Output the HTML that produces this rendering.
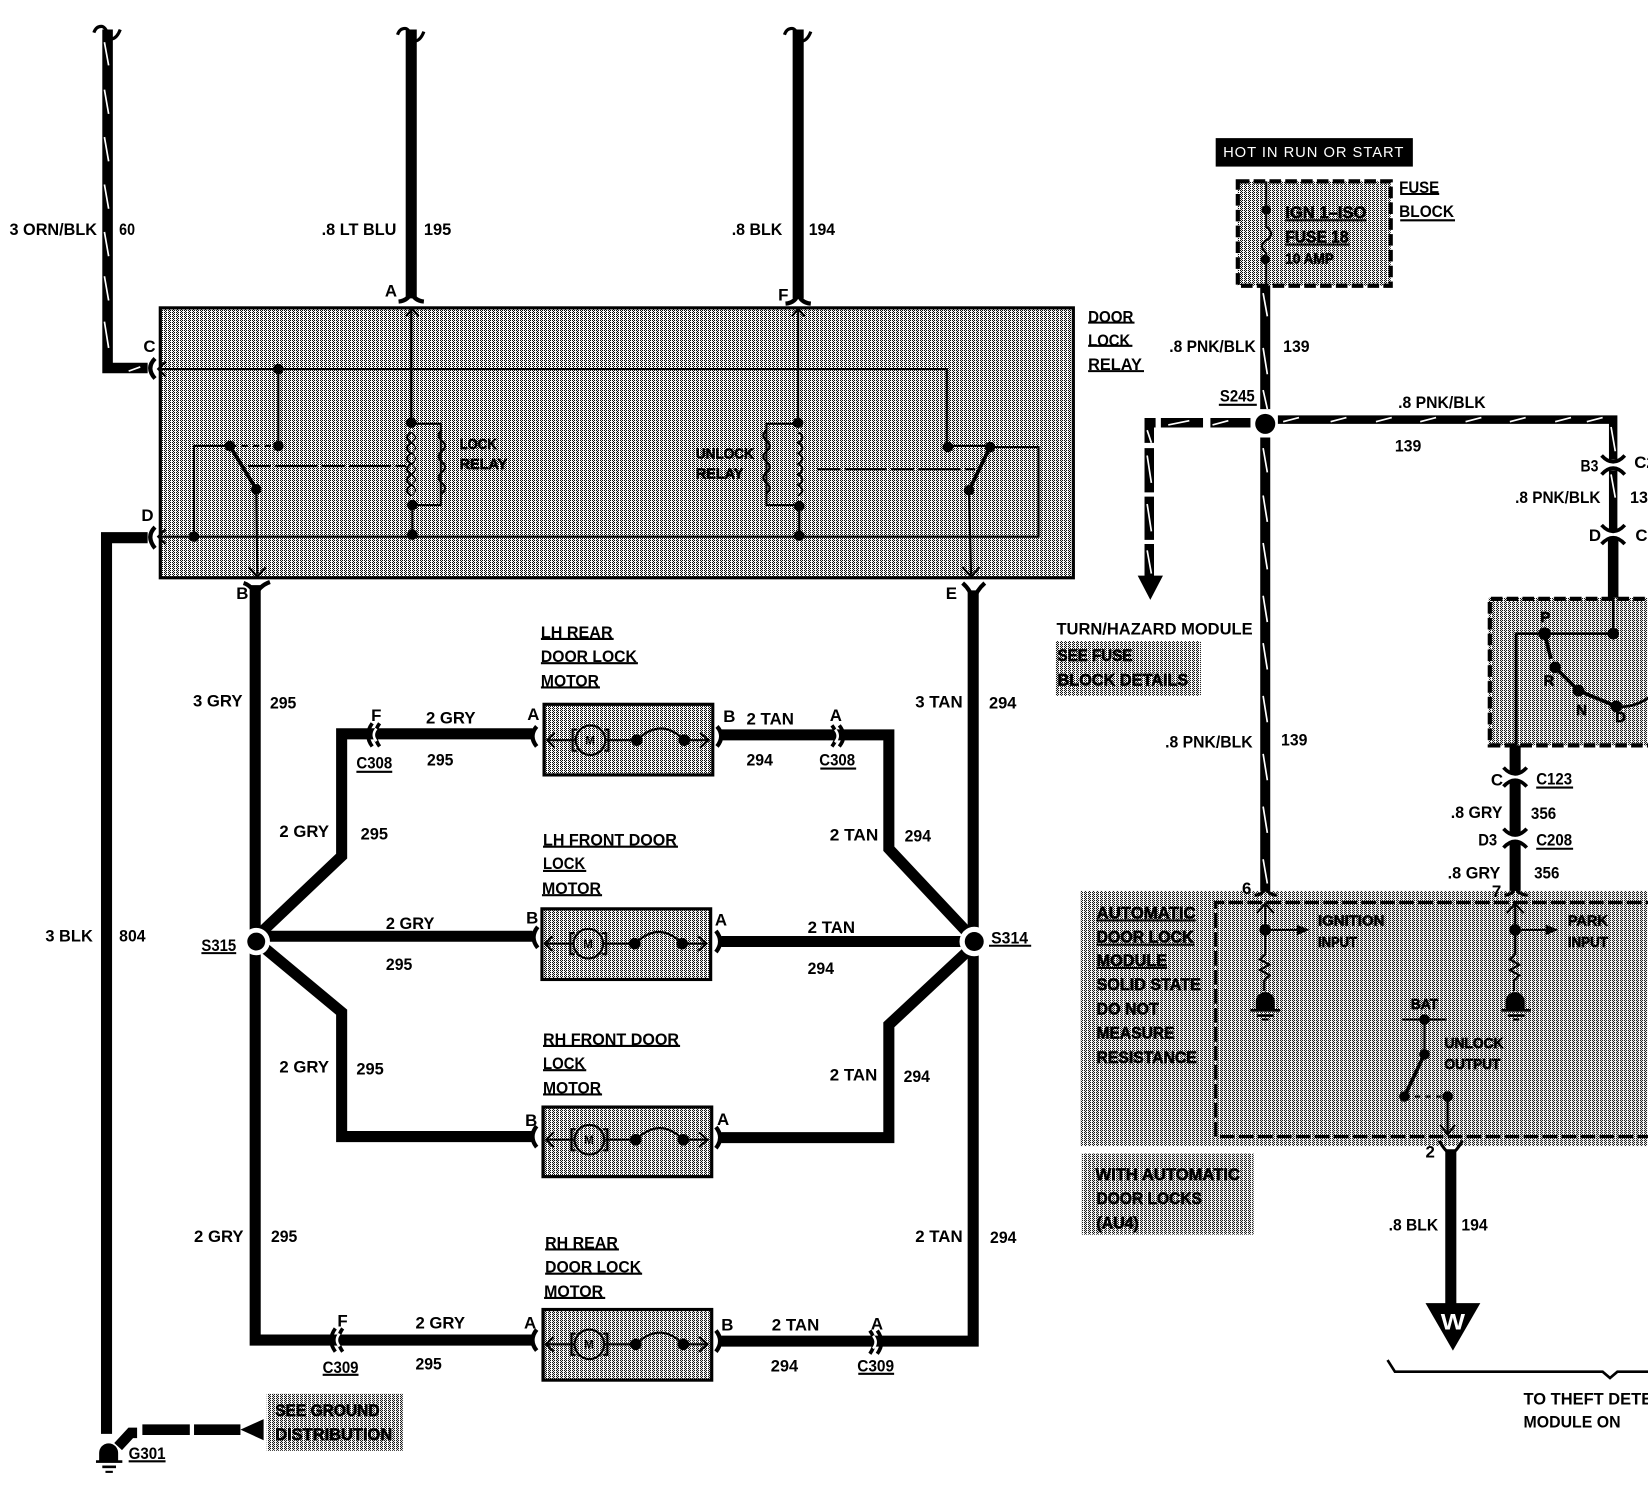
<!DOCTYPE html>
<html><head><meta charset="utf-8"><style>
html,body{margin:0;padding:0;background:#fff}
svg{display:block}
text{font-family:"Liberation Sans Narrow","Liberation Sans",sans-serif;font-weight:700;font-size:16px;fill:#000}
.s{font-size:14px}
.d{stroke:#000;stroke-width:.6}
.w{fill:#fff}
</style></head><body>
<svg xmlns="http://www.w3.org/2000/svg" width="1648" height="1494" viewBox="0 0 1563 1417">
<defs>
<pattern id="g" width="4" height="4" patternUnits="userSpaceOnUse" patternTransform="scale(.9484)">
<rect width="4" height="4" fill="#fff"/>
<rect x="0" y="0" width="1" height="1" fill="#000"/><rect x="2" y="0" width="1" height="1" fill="#000"/>
<rect x="1" y="1" width="1" height="1" fill="#000"/>
<rect x="0" y="2" width="1" height="1" fill="#000"/><rect x="2" y="2" width="1" height="1" fill="#000"/>
<rect x="1" y="3" width="1" height="1" fill="#000"/>
</pattern>
</defs>
<rect width="1563" height="1417" fill="#fff"/>

<!-- gray areas -->
<g fill="url(#g)">
<rect x="152" y="292" width="866" height="256"/>
<rect x="1174" y="172" width="145" height="99"/>
<rect x="1001" y="608" width="138" height="52"/>
<rect x="1412" y="567" width="160" height="140"/>
<rect x="1025" y="845" width="540" height="242"/>
<rect x="1026" y="1094" width="163" height="77"/>
<rect x="253" y="1322" width="129" height="54"/>
<rect x="516" y="668" width="160" height="67"/>
<rect x="514" y="862" width="160" height="67"/>
<rect x="515" y="1050" width="160" height="66"/>
<rect x="515" y="1242" width="160" height="67"/>
</g>
<g fill="none" stroke="#000" stroke-width="3">
<rect x="152" y="292" width="866" height="256"/>
<rect x="516" y="668" width="160" height="67"/>
<rect x="514" y="862" width="160" height="67"/>
<rect x="515" y="1050" width="160" height="66"/>
<rect x="515" y="1242" width="160" height="67"/>
</g>
<g fill="none" stroke="#000" stroke-width="4" stroke-dasharray="11 4">
<rect x="1174" y="172" width="145" height="99"/>
<path d="M1575,568H1413V707H1575"/>
</g>
<path d="M1575,856H1153V1078H1575" fill="none" stroke="#000" stroke-width="3" stroke-dasharray="14 4"/>

<!-- heavy wires -->
<g fill="none" stroke="#000" stroke-width="10.5" stroke-linejoin="miter">
<path d="M390,28V283"/>
<path d="M757,28V283"/>
<path d="M242,555V1271H505"/>
<path d="M923,560V1272H684"/>
<path d="M247,885L324,812V696H505"/>
<path d="M250,888H505"/>
<path d="M247,896L324,960V1078H505"/>
<path d="M684,697H843V805L918,885"/>
<path d="M684,893H918"/>
<path d="M918,902L843,972V1079H684"/>
<path d="M1437,707V733M1437,741V791M1437,799V845"/>
<path d="M1376,1090V1240"/>
</g>
<path d="M102,28V349H140" fill="none" stroke="#000" stroke-width="10"/>
<path d="M140,510H101V1360" fill="none" stroke="#000" stroke-width="10.5"/>
<path d="M1200,271V388M1200,415V845" fill="none" stroke="#000" stroke-width="9.5"/>
<path d="M1212,398H1530V436" fill="none" stroke="#000" stroke-width="8"/>
<path d="M1530,446V503" fill="none" stroke="#000" stroke-width="8"/>
<path d="M1530,511V567" fill="none" stroke="#000" stroke-width="10"/>
<!-- dashed wires -->
<path d="M1186,401H1148M1141,401H1101M1096,401H1090V420M1090,425V467M1090,471V512M1090,516V550" fill="none" stroke="#000" stroke-width="9"/>
<path d="M1079,546H1103L1091,569Z" fill="#000"/>
<path d="M112,1372L124,1359H130M135,1356H180M184,1356H228" fill="none" stroke="#000" stroke-width="10"/>
<path d="M228,1356L250,1346V1366Z" fill="#000"/>

<!-- stripes -->
<g fill="none" stroke="#fff" stroke-width="1.6">
<path d="M99,40L103,62M99,85L103,108M99,130L103,153M99,175L103,198M99,220L103,243M99,262L103,285M99,305L103,330"/>
<path d="M1198,278L1202,300M1198,330L1202,355M1198,370L1202,388M1198,425L1202,448M1198,470L1202,495M1198,515L1202,540M1198,565L1202,590M1198,610L1202,635M1198,660L1202,685M1198,715L1202,740M1198,765L1202,790M1198,815L1202,838"/>
<path d="M1217,400L1232,396M1262,400L1277,396M1305,400L1320,396M1347,400L1362,396M1390,400L1405,396M1432,400L1447,396M1475,400L1490,396M1505,400L1520,396M1150,403L1165,399M1108,403L1128,399"/>
<path d="M1528,405L1532,428M1528,450L1532,472M1088,408L1092,420M1088,432L1092,458M1088,478L1092,504M1088,522L1092,544"/>
<path d="M122,352L133,348"/>
</g>

<!-- squiggles at the top -->
<g fill="none" stroke="#000" stroke-width="3">
<path d="M89,31Q91,25 96,25Q100,25 103,34M114,28Q111,36 106,37"/>
<path d="M377,33Q379,27 384,27Q388,27 391,36M402,30Q399,38 394,39"/>
<path d="M744,33Q746,27 751,27Q755,27 758,36M769,30Q766,38 761,39"/>
</g>

<!-- forks / connectors -->
<g fill="none" stroke="#000" stroke-width="3.5">
<path d="M378,286Q388,285 390,276Q392,285 402,286" stroke-width="4"/>
<path d="M745,288Q755,287 757,278Q759,287 769,288" stroke-width="4"/>
<path d="M231,553Q240,556 242,566Q245,556 256,552" stroke-width="4"/>
<path d="M913,553Q921,560 923,570Q926,560 934,553" stroke-width="4"/>
<path d="M147,340Q138,349 147,359" stroke-width="4"/>
<path d="M147,500Q138,509 147,520" stroke-width="4"/>
<path d="M509,689Q501,698 509,708M510,879Q502,889 510,899M509,1068Q501,1078 509,1088M509,1261Q501,1271 509,1281" stroke-width="4"/>
<path d="M680,689Q688,698 680,708M679,883Q687,893 679,903M679,1069Q687,1079 679,1089M679,1262Q687,1272 679,1282" stroke-width="4"/>
<path d="M353,686Q345,697 353,708M360,686Q352,697 360,708"/>
<path d="M789,688Q797,698 789,708M796,688Q804,698 796,708"/>
<path d="M318,1260Q310,1271 318,1282M325,1260Q317,1271 325,1282"/>
<path d="M825,1262Q833,1273 825,1284M832,1262Q840,1273 832,1284"/>
<path d="M1519,432Q1530,444 1541,432"/>
<path d="M1519,450Q1530,438 1541,450"/>
<path d="M1519,498Q1530,510 1541,498"/>
<path d="M1519,516Q1530,504 1541,516"/>
<path d="M1426,728Q1437,740 1448,728"/>
<path d="M1426,746Q1437,734 1448,746"/>
<path d="M1426,786Q1437,798 1448,786"/>
<path d="M1426,804Q1437,792 1448,804"/>
<path d="M1190,849Q1198,849 1200,841Q1203,849 1211,849" stroke-width="3"/>
<path d="M1427,849Q1435,849 1437,841Q1440,849 1449,849" stroke-width="3"/>
<path d="M1365,1082Q1372,1094 1376,1094Q1380,1094 1387,1082" stroke-width="3"/>
</g>
<g fill="none" stroke="#fff" stroke-width="2.4">
<path d="M357,691Q352,697 357,703"/>
<path d="M792,692Q797,698 792,704"/>
<path d="M322,1265Q317,1271 322,1277"/>
<path d="M828,1267Q833,1273 828,1279"/>
</g>

<!-- relay internals -->
<g fill="none" stroke="#000" stroke-width="2">
<path d="M150,350H898V423H940"/>
<path d="M264,350V423"/>
<path d="M218,423H184V509"/>
<path d="M150,509H985V424H940"/>
<path d="M243,464L244,545M919,465L921,545"/>
<path d="M390,293V402M757,293V402"/>
<path d="M390,402H418V479H390M757,402H727V479H757"/>
<path d="M391,479V507M758,480V508"/>
<path d="M235,442H385M775,445H925" stroke-dasharray="22 4 40 4"/>
<path d="M218,423H264" stroke-dasharray="6 5"/>
<path d="M385,300L391,293L397,300M751,300L757,293L763,300"/>
<path d="M157,343L150,350L157,357M157,502L150,509L157,516"/>
<path d="M236,538L244,547L252,538M913,538L921,547L929,538"/>
<path d="M390,410q-8,5 0,10q-8,5 0,10q-8,5 0,10q-8,5 0,10q-8,5 0,10q-8,5 0,10"/>
<path d="M390,410q8,5 0,10q8,5 0,10q8,5 0,10q8,5 0,10q8,5 0,10q8,5 0,10" stroke-width="1"/>
<path d="M419,408q-6,5 0,10q6,5 0,10q-6,5 0,10q6,5 0,10q-6,5 0,10q6,5 0,10"/>
<path d="M757,410q8,5 0,10q8,5 0,10q8,5 0,10q8,5 0,10q8,5 0,10q8,5 0,10"/>
<path d="M727,408q-6,5 0,10q6,5 0,10q-6,5 0,10q6,5 0,10q-6,5 0,10q6,5 0,10"/>
</g>
<path d="M218,423L243,464M939,424L919,465" stroke="#000" stroke-width="3.5"/>
<g fill="#000">
<circle cx="264" cy="350" r="5"/><circle cx="264" cy="423" r="5"/><circle cx="218" cy="423" r="5"/><circle cx="243" cy="464" r="5"/><circle cx="184" cy="509" r="5"/>
<circle cx="390" cy="401" r="5"/><circle cx="391" cy="479" r="5"/><circle cx="391" cy="507" r="5"/>
<circle cx="757" cy="401" r="5"/><circle cx="758" cy="480" r="5"/><circle cx="758" cy="508" r="5"/>
<circle cx="899" cy="424" r="5"/><circle cx="939" cy="424" r="5"/><circle cx="919" cy="465" r="5"/>
</g>

<!-- motors -->
<g fill="none" stroke="#000" stroke-width="2">
<path d="M526,695L519,702L526,709M519,702H546M575,702H604M649,702H672M664,695L672,702L664,709"/>
<circle cx="560" cy="702" r="14"/>
<path d="M547,692H543V712H547M573,692H577V712H573"/>
<path d="M604,702Q627,680 649,702"/>
<circle cx="604" cy="702" r="4.5" fill="#000"/><circle cx="649" cy="702" r="4.5" fill="#000"/>
<path d="M524,888L517,895L524,902M517,895H544M573,895H602M647,895H670M662,888L670,895L662,902"/>
<circle cx="558" cy="895" r="14"/><path d="M545,885H541V905H545M571,885H575V905H571"/>
<path d="M602,895Q625,873 647,895"/><circle cx="602" cy="895" r="4.5" fill="#000"/><circle cx="647" cy="895" r="4.5" fill="#000"/>
<path d="M525,1074L518,1081L525,1088M518,1081H545M574,1081H603M648,1081H671M663,1074L671,1081L663,1088"/>
<circle cx="559" cy="1081" r="14"/><path d="M546,1071H542V1091H546M572,1071H576V1091H572"/>
<path d="M603,1081Q626,1059 648,1081"/><circle cx="603" cy="1081" r="4.5" fill="#000"/><circle cx="648" cy="1081" r="4.5" fill="#000"/>
<path d="M525,1268L518,1275L525,1282M518,1275H545M574,1275H603M648,1275H671M663,1268L671,1275L663,1282"/>
<circle cx="559" cy="1275" r="14"/><path d="M546,1265H542V1285H546M572,1265H576V1285H572"/>
<path d="M603,1275Q626,1253 648,1275"/><circle cx="603" cy="1275" r="4.5" fill="#000"/><circle cx="648" cy="1275" r="4.5" fill="#000"/>
</g>
<text x="555" y="706" style="font-size:11px">M</text><text x="553" y="899" style="font-size:11px">M</text><text x="554" y="1085" style="font-size:11px">M</text><text x="554" y="1279" style="font-size:11px">M</text>

<!-- splices -->
<circle cx="243" cy="893" r="13" fill="#fff"/><circle cx="243" cy="893" r="8.5" fill="#000"/>
<circle cx="924" cy="893" r="14" fill="#fff"/><circle cx="924" cy="893" r="9" fill="#000"/>
<circle cx="1200" cy="402" r="9.5" fill="#000"/>

<!-- fuse -->
<g fill="none" stroke="#000" stroke-width="2">
<path d="M1201,172V215Q1210,222 1201,228Q1193,233 1201,240V271"/>
</g>
<circle cx="1201" cy="199" r="4.5"/><circle cx="1200" cy="246" r="4.5"/>

<!-- automatic module internals -->
<g fill="none" stroke="#000" stroke-width="2">
<path d="M1200,857V905l-5,5l9,5l-9,5l9,5l-5,5V940"/>
<path d="M1437,857V905l-5,5l9,5l-9,5l9,5l-5,5V940"/>
<path d="M1192,866L1200,857L1208,866M1429,866L1437,857L1445,866"/>
<path d="M1200,882H1232M1437,882H1470"/>
<path d="M1330,967H1372M1351,967V1000"/>
<path d="M1332,1040H1373" stroke-dasharray="5 5"/>
<path d="M1373,1040V1075M1366,1067L1373,1076L1380,1067"/>
<path d="M1437,601H1530V567M1438,601V707" stroke-width="2.5"/>
<path d="M1533,670Q1550,672 1566,660" stroke-width="2.5"/>
</g>
<path d="M1351,1000L1332,1040M1465,601L1471,625M1475,633L1497,655L1533,670" stroke="#000" stroke-width="3.5" fill="none"/>
<g fill="#000">
<path d="M1242,882L1230,877V887ZM1478,882L1466,877V887Z"/>
<circle cx="1200" cy="882" r="5.5"/><circle cx="1437" cy="882" r="5.5"/>
<path d="M1191,958V950a9,9 0 0 1 18,0V958ZM1428,958V950a9,9 0 0 1 18,0V958Z"/>
<rect x="1186" y="957" width="28" height="2.5"/><rect x="1192" y="962" width="16" height="2.5"/><rect x="1197" y="966" width="6" height="2"/>
<rect x="1424" y="957" width="28" height="2.5"/><rect x="1430" y="962" width="16" height="2.5"/><rect x="1435" y="966" width="6" height="2"/>
<circle cx="1351" cy="967" r="5"/><circle cx="1351" cy="1000" r="5"/><circle cx="1332" cy="1040" r="5"/><circle cx="1373" cy="1040" r="5"/>
<circle cx="1465" cy="601" r="6"/><circle cx="1530" cy="601" r="5.5"/><circle cx="1475" cy="633" r="5.5"/><circle cx="1497" cy="655" r="5.5"/><circle cx="1533" cy="670" r="5.5"/>
<!-- ground G301 -->
<path d="M94,1386V1378a9,9 0 0 1 18,0V1386Z"/>
<rect x="91" y="1385" width="25" height="2.5"/><rect x="97" y="1390" width="13" height="2.5"/><rect x="100" y="1395" width="7" height="2"/>
<!-- W arrow -->
<path d="M1352,1236H1404L1378,1281Z"/>
<rect x="1153" y="131" width="187" height="27"/>
</g>
<text x="1366.5" y="1261" class="w" textLength="23" lengthAdjust="spacingAndGlyphs" style="font-size:21px">W</text>
<path d="M1316,1290L1323,1301H1520L1527,1307L1534,1301H1570" fill="none" stroke="#000" stroke-width="2.5"/>

<!-- underlines -->
<g stroke="#000" stroke-width="2">
<path d="M1032,306H1076M1032,328H1074M1032,352H1085"/>
<path d="M513,606H582M513,629H605M513,652H569"/>
<path d="M515,803H643M515,826H556M514,849H571"/>
<path d="M515,992H645M515,1015H556M515,1038H571"/>
<path d="M517,1185H587M517,1208H609M516,1231H574"/>
<path d="M338,732H372M778,729H812M306,1304H340M814,1303H848"/>
<path d="M191,904H224M938,897H978M122,1386H157M1156,384H1192"/>
<path d="M1328,184H1365M1328,209H1380M1219,209H1296M1219,232H1280"/>
<path d="M1457,747H1492M1457,805H1492"/>
<path d="M1040,873H1134M1040,896H1133M1040,918H1107"/>
</g>

<!-- labels -->
<text x="9" y="223" textLength="83" lengthAdjust="spacingAndGlyphs">3 ORN/BLK</text>
<text x="113" y="223" textLength="15" lengthAdjust="spacingAndGlyphs">60</text>
<text x="305" y="223" textLength="71" lengthAdjust="spacingAndGlyphs">.8 LT BLU</text>
<text x="402" y="223" textLength="26" lengthAdjust="spacingAndGlyphs">195</text>
<text x="694" y="223" textLength="48" lengthAdjust="spacingAndGlyphs">.8 BLK</text>
<text x="767" y="223" textLength="25" lengthAdjust="spacingAndGlyphs">194</text>
<text x="365" y="281">A</text><text x="738" y="285">F</text><text x="136" y="334">C</text><text x="134" y="494">D</text><text x="224" y="568">B</text><text x="897" y="568">E</text>
<text x="1032" y="306" textLength="43" lengthAdjust="spacingAndGlyphs">DOOR</text>
<text x="1032" y="328" textLength="40" lengthAdjust="spacingAndGlyphs">LOCK</text>
<text x="1032" y="351" textLength="51" lengthAdjust="spacingAndGlyphs">RELAY</text>
<text class="d s" x="436" y="426" textLength="35" lengthAdjust="spacingAndGlyphs">LOCK</text>
<text class="d s" x="436" y="445" textLength="45" lengthAdjust="spacingAndGlyphs">RELAY</text>
<text class="d s" x="660" y="435" textLength="55" lengthAdjust="spacingAndGlyphs">UNLOCK</text>
<text class="d s" x="660" y="454" textLength="45" lengthAdjust="spacingAndGlyphs">RELAY</text>

<text x="183" y="670" textLength="47" lengthAdjust="spacingAndGlyphs">3 GRY</text>
<text x="256" y="672" textLength="25" lengthAdjust="spacingAndGlyphs">295</text>
<text x="868" y="671" textLength="45" lengthAdjust="spacingAndGlyphs">3 TAN</text>
<text x="938" y="672" textLength="26" lengthAdjust="spacingAndGlyphs">294</text>
<text x="513" y="605" textLength="68" lengthAdjust="spacingAndGlyphs">LH REAR</text>
<text x="513" y="628" textLength="91" lengthAdjust="spacingAndGlyphs">DOOR LOCK</text>
<text x="513" y="651" textLength="55" lengthAdjust="spacingAndGlyphs">MOTOR</text>
<text x="352" y="684">F</text>
<text x="404" y="686" textLength="47" lengthAdjust="spacingAndGlyphs">2 GRY</text>
<text x="500" y="683">A</text><text x="686" y="685">B</text>
<text x="708" y="687" textLength="45" lengthAdjust="spacingAndGlyphs">2 TAN</text>
<text x="787" y="684">A</text>
<text x="338" y="729" textLength="34" lengthAdjust="spacingAndGlyphs">C308</text>
<text x="405" y="726" textLength="25" lengthAdjust="spacingAndGlyphs">295</text>
<text x="708" y="726" textLength="25" lengthAdjust="spacingAndGlyphs">294</text>
<text x="777" y="726" textLength="34" lengthAdjust="spacingAndGlyphs">C308</text>
<text x="265" y="794" textLength="47" lengthAdjust="spacingAndGlyphs">2 GRY</text>
<text x="342" y="796" textLength="26" lengthAdjust="spacingAndGlyphs">295</text>
<text x="787" y="797" textLength="46" lengthAdjust="spacingAndGlyphs">2 TAN</text>
<text x="858" y="798" textLength="25" lengthAdjust="spacingAndGlyphs">294</text>
<text x="515" y="802" textLength="127" lengthAdjust="spacingAndGlyphs">LH FRONT DOOR</text>
<text x="515" y="824" textLength="40" lengthAdjust="spacingAndGlyphs">LOCK</text>
<text x="514" y="848" textLength="56" lengthAdjust="spacingAndGlyphs">MOTOR</text>
<text x="499" y="876">B</text>
<text x="366" y="881" textLength="46" lengthAdjust="spacingAndGlyphs">2 GRY</text>
<text x="366" y="920" textLength="25" lengthAdjust="spacingAndGlyphs">295</text>
<text x="678" y="878">A</text>
<text x="766" y="885" textLength="45" lengthAdjust="spacingAndGlyphs">2 TAN</text>
<text x="766" y="924" textLength="25" lengthAdjust="spacingAndGlyphs">294</text>
<text x="191" y="902" textLength="33" lengthAdjust="spacingAndGlyphs">S315</text>
<text x="940" y="895" textLength="35" lengthAdjust="spacingAndGlyphs">S314</text>
<text x="43" y="893" textLength="45" lengthAdjust="spacingAndGlyphs">3 BLK</text>
<text x="113" y="893" textLength="25" lengthAdjust="spacingAndGlyphs">804</text>
<text x="265" y="1017" textLength="47" lengthAdjust="spacingAndGlyphs">2 GRY</text>
<text x="338" y="1019" textLength="26" lengthAdjust="spacingAndGlyphs">295</text>
<text x="787" y="1025" textLength="45" lengthAdjust="spacingAndGlyphs">2 TAN</text>
<text x="857" y="1026" textLength="25" lengthAdjust="spacingAndGlyphs">294</text>
<text x="515" y="991" textLength="129" lengthAdjust="spacingAndGlyphs">RH FRONT DOOR</text>
<text x="515" y="1014" textLength="40" lengthAdjust="spacingAndGlyphs">LOCK</text>
<text x="515" y="1037" textLength="55" lengthAdjust="spacingAndGlyphs">MOTOR</text>
<text x="498" y="1068">B</text><text x="680" y="1067">A</text>
<text x="184" y="1178" textLength="47" lengthAdjust="spacingAndGlyphs">2 GRY</text>
<text x="257" y="1178" textLength="25" lengthAdjust="spacingAndGlyphs">295</text>
<text x="868" y="1178" textLength="45" lengthAdjust="spacingAndGlyphs">2 TAN</text>
<text x="939" y="1179" textLength="25" lengthAdjust="spacingAndGlyphs">294</text>
<text x="517" y="1184" textLength="69" lengthAdjust="spacingAndGlyphs">RH REAR</text>
<text x="517" y="1207" textLength="91" lengthAdjust="spacingAndGlyphs">DOOR LOCK</text>
<text x="516" y="1230" textLength="56" lengthAdjust="spacingAndGlyphs">MOTOR</text>
<text x="320" y="1258">F</text>
<text x="394" y="1260" textLength="47" lengthAdjust="spacingAndGlyphs">2 GRY</text>
<text x="497" y="1260">A</text><text x="684" y="1262">B</text>
<text x="732" y="1262" textLength="45" lengthAdjust="spacingAndGlyphs">2 TAN</text>
<text x="826" y="1261">A</text>
<text x="306" y="1302" textLength="34" lengthAdjust="spacingAndGlyphs">C309</text>
<text x="394" y="1299" textLength="25" lengthAdjust="spacingAndGlyphs">295</text>
<text x="731" y="1301" textLength="26" lengthAdjust="spacingAndGlyphs">294</text>
<text x="813" y="1301" textLength="35" lengthAdjust="spacingAndGlyphs">C309</text>
<text class="d" x="261" y="1343" textLength="99" lengthAdjust="spacingAndGlyphs">SEE GROUND</text>
<text class="d" x="261" y="1366" textLength="111" lengthAdjust="spacingAndGlyphs">DISTRIBUTION</text>
<text x="122" y="1384" textLength="35" lengthAdjust="spacingAndGlyphs">G301</text>

<!-- right half -->
<text class="w s" x="1160" y="149" textLength="171" lengthAdjust="spacing" style="font-weight:400">HOT IN RUN OR START</text>
<text x="1327" y="183" textLength="38" lengthAdjust="spacingAndGlyphs">FUSE</text>
<text x="1327" y="206" textLength="52" lengthAdjust="spacingAndGlyphs">BLOCK</text>
<text class="d" x="1219" y="207" textLength="77" lengthAdjust="spacingAndGlyphs">IGN 1–ISO</text>
<text class="d" x="1219" y="230" textLength="60" lengthAdjust="spacingAndGlyphs">FUSE 18</text>
<text class="d s" x="1219" y="250" textLength="46" lengthAdjust="spacingAndGlyphs">10 AMP</text>
<text x="1109" y="334" textLength="82" lengthAdjust="spacingAndGlyphs">.8 PNK/BLK</text>
<text x="1217" y="334" textLength="25" lengthAdjust="spacingAndGlyphs">139</text>
<text x="1157" y="381" textLength="33" lengthAdjust="spacingAndGlyphs">S245</text>
<text x="1326" y="387" textLength="83" lengthAdjust="spacingAndGlyphs">.8 PNK/BLK</text>
<text x="1323" y="428" textLength="25" lengthAdjust="spacingAndGlyphs">139</text>
<text x="1105" y="709" textLength="83" lengthAdjust="spacingAndGlyphs">.8 PNK/BLK</text>
<text x="1215" y="707" textLength="25" lengthAdjust="spacingAndGlyphs">139</text>
<text x="1499" y="447" textLength="17" lengthAdjust="spacingAndGlyphs">B3</text>
<text x="1550" y="444">C2</text>
<text x="1437" y="477" textLength="81" lengthAdjust="spacingAndGlyphs">.8 PNK/BLK</text>
<text x="1546" y="477" textLength="17" lengthAdjust="spacingAndGlyphs">13</text>
<text x="1507" y="513">D</text><text x="1551" y="513">C1</text>
<text class="d s" x="1461" y="590">P</text><text class="d s" x="1464" y="650">R</text><text class="d s" x="1495" y="678">N</text><text class="d s" x="1532" y="685">D</text>
<text x="1002" y="602" textLength="186" lengthAdjust="spacingAndGlyphs">TURN/HAZARD MODULE</text>
<text class="d" x="1003" y="627" textLength="71" lengthAdjust="spacingAndGlyphs">SEE FUSE</text>
<text class="d" x="1003" y="650" textLength="124" lengthAdjust="spacingAndGlyphs">BLOCK DETAILS</text>
<text x="1414" y="745">C</text>
<text x="1457" y="744" textLength="34" lengthAdjust="spacingAndGlyphs">C123</text>
<text x="1376" y="776" textLength="49" lengthAdjust="spacingAndGlyphs">.8 GRY</text>
<text x="1452" y="777" textLength="24" lengthAdjust="spacingAndGlyphs">356</text>
<text x="1402" y="802" textLength="18" lengthAdjust="spacingAndGlyphs">D3</text>
<text x="1457" y="802" textLength="34" lengthAdjust="spacingAndGlyphs">C208</text>
<text x="1373" y="833" textLength="50" lengthAdjust="spacingAndGlyphs">.8 GRY</text>
<text x="1455" y="833" textLength="24" lengthAdjust="spacingAndGlyphs">356</text>
<text x="1178" y="848">6</text><text x="1415" y="851">7</text>
<text class="d" x="1040" y="871" textLength="94" lengthAdjust="spacingAndGlyphs">AUTOMATIC</text>
<text class="d" x="1040" y="894" textLength="92" lengthAdjust="spacingAndGlyphs">DOOR LOCK</text>
<text class="d" x="1040" y="916" textLength="67" lengthAdjust="spacingAndGlyphs">MODULE</text>
<text class="d" x="1040" y="939" textLength="99" lengthAdjust="spacingAndGlyphs">SOLID STATE</text>
<text class="d" x="1040" y="962" textLength="59" lengthAdjust="spacingAndGlyphs">DO NOT</text>
<text class="d" x="1040" y="985" textLength="74" lengthAdjust="spacingAndGlyphs">MEASURE</text>
<text class="d" x="1040" y="1008" textLength="95" lengthAdjust="spacingAndGlyphs">RESISTANCE</text>
<text class="d s" x="1250" y="878" textLength="63" lengthAdjust="spacingAndGlyphs">IGNITION</text>
<text class="d s" x="1250" y="898" textLength="37" lengthAdjust="spacingAndGlyphs">INPUT</text>
<text class="d s" x="1487" y="878" textLength="38" lengthAdjust="spacingAndGlyphs">PARK</text>
<text class="d s" x="1487" y="898" textLength="38" lengthAdjust="spacingAndGlyphs">INPUT</text>
<text class="d s" x="1338" y="957" textLength="26" lengthAdjust="spacingAndGlyphs">BAT</text>
<text class="d s" x="1370" y="994" textLength="56" lengthAdjust="spacingAndGlyphs">UNLOCK</text>
<text class="d s" x="1370" y="1014" textLength="53" lengthAdjust="spacingAndGlyphs">OUTPUT</text>
<text class="d" x="1039" y="1119" textLength="137" lengthAdjust="spacingAndGlyphs">WITH AUTOMATIC</text>
<text class="d" x="1040" y="1142" textLength="100" lengthAdjust="spacingAndGlyphs">DOOR LOCKS</text>
<text class="d" x="1040" y="1165" textLength="40" lengthAdjust="spacingAndGlyphs">(AU4)</text>
<text x="1352" y="1098">2</text>
<text x="1317" y="1167" textLength="47" lengthAdjust="spacingAndGlyphs">.8 BLK</text>
<text x="1386" y="1167" textLength="25" lengthAdjust="spacingAndGlyphs">194</text>
<text x="1445" y="1332" textLength="122" lengthAdjust="spacingAndGlyphs">TO THEFT DETE</text>
<text x="1445" y="1354" textLength="92" lengthAdjust="spacingAndGlyphs">MODULE ON</text>
</svg>
</body></html>
